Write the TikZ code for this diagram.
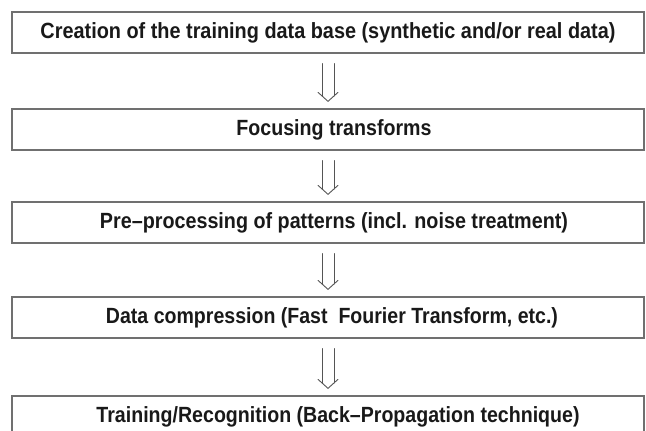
\documentclass[tikz,border=0pt]{standalone}
\usepackage{fontspec}
\setmainfont{Liberation Sans}
\usetikzlibrary{calc}
\definecolor{boxgray}{HTML}{707070}
\definecolor{arrgray}{HTML}{555555}
\newcommand\dblarr[2]{%
  \draw[arrline] ($(#1.south)+(-6,-10)$) -- ($(#2.north)+(-6,12.4)$);
  \draw[arrline] ($(#1.south)+(6,-10)$) -- ($(#2.north)+(6,12.4)$);
  \draw[arrline] ($(#2.north)+(-10,16)$) -- ($(#2.north)+(0,7)$) -- ($(#2.north)+(10,16)$);
}
\newcommand\boxtext[2]{\fontsize{22}{24}\selectfont\bfseries\resizebox{#1pt}{\height}{#2}}
\begin{document}
\begin{tikzpicture}[x=1pt,y=1pt,
  stepbox/.style={draw=boxgray, line width=1.3pt, fill=white, minimum width=632pt, minimum height=41pt, inner sep=0pt, text=black!90},
  arrline/.style={draw=arrgray, line width=0.9pt, line cap=round, line join=miter}]
\useasboundingbox (0,0) rectangle (646,431);
\begin{scope}
\clip (0,0) rectangle (646,431);
\node[stepbox] (b1) at (328,398.5) {\boxtext{575}{Creation of the training data base (synthetic and/or real data)}};
\node[stepbox] (b2) at (328,301.5) {\hspace*{12pt}\boxtext{195}{Focusing transforms}};
\node[stepbox] (b3) at (328,208.5) {\hspace*{12pt}\boxtext{468}{Pre–processing of patterns (incl. noise treatment)}};
\node[stepbox] (b4) at (328,113.5) {\hspace*{8pt}\boxtext{452}{Data compression (Fast~ Fourier Transform, etc.)}};
\node[stepbox] (b5) at (328,14.5) {\hspace*{20pt}\boxtext{483}{Training/Recognition (Back–Propagation technique)}};
\dblarr{b1}{b2}
\dblarr{b2}{b3}
\dblarr{b3}{b4}
\dblarr{b4}{b5}
\end{scope}
\end{tikzpicture}
\end{document}
